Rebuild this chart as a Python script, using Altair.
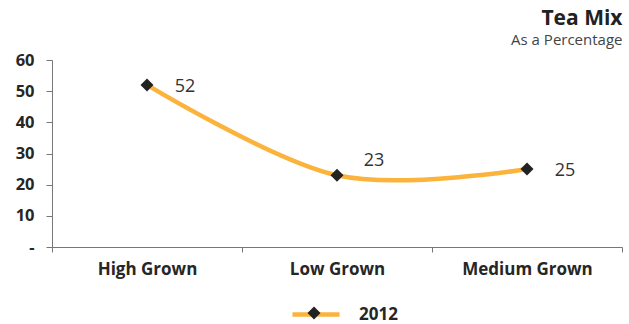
import altair as alt
import pandas as pd

categories = ["High Grown", "Low Grown", "Medium Grown"]
values = [52, 23, 25]
series = ["2012", "2012", "2012"]

df = pd.DataFrame({"cat": categories, "val": values, "series": series, "series2": series})

FONT = "Open Sans"
ORANGE = "#FBB33B"

x = alt.X("cat:N", sort=categories, title=None,
          scale=alt.Scale(paddingInner=0, paddingOuter=0),
          axis=alt.Axis(labelAngle=0, labelFontWeight="bold", labelFontSize=17,
                        labelColor="#262626", labelFont=FONT, labelPadding=9,
                        tickBand="extent", tickSize=5, tickColor="#777",
                        domainColor="#777", grid=False))
y = alt.Y("val:Q", title=None,
          scale=alt.Scale(domain=[0, 60], nice=False),
          axis=alt.Axis(values=[0, 10, 20, 30, 40, 50, 60],
                        labelExpr="datum.value == 0 ? '-' : datum.label",
                        labelFontWeight="bold", labelFontSize=16.5, labelColor="#262626",
                        labelFont=FONT, labelPadding=12, tickSize=6, tickColor="#777",
                        domainColor="#777", grid=False))

base = alt.Chart(df)

line = base.mark_line(interpolate="cardinal", tension=0, strokeWidth=4.5,
                      color=ORANGE).encode(
    x=x, y=y,
    color=alt.Color("series:N", scale=alt.Scale(range=[ORANGE]),
                    legend=alt.Legend(title=None, orient="none", legendX=238, legendY=228.5,
                                      symbolType="stroke", symbolSize=2209,
                                      symbolStrokeWidth=4.5, symbolStrokeColor=ORANGE,
                                      labelFontSize=17,
                                      labelFontWeight="bold", labelFont=FONT,
                                      labelColor="#262626", labelOffset=17, padding=0)))

points = base.mark_point(filled=True, size=170, opacity=1).encode(
    x=x, y=y,
    shape=alt.Shape("series2:N", scale=alt.Scale(range=["diamond"]),
                    legend=alt.Legend(title=None, orient="none", legendX=254.5, legendY=245.5,
                                      symbolSize=170, symbolFillColor="#222",
                                      symbolStrokeColor="#222", symbolOpacity=1,
                                      labelOpacity=0, padding=0, labelFontSize=10)),
    color=alt.value("#222"))

lab_main = base.transform_filter(alt.datum.cat != "Low Grown").mark_text(
    dx=38, dy=2, fontSize=18, font=FONT, color="#333").encode(
    x=x, y=y, text="val:Q")
lab_low = base.transform_filter(alt.datum.cat == "Low Grown").mark_text(
    dx=37, dy=-14, fontSize=18, font=FONT, color="#333").encode(
    x=x, y=y, text="val:Q")

chart = alt.layer(line, points, lab_main, lab_low).resolve_legend(
    color="independent", shape="independent"
).properties(
    width=570, height=187,
    title=alt.TitleParams("Tea Mix", subtitle="As a Percentage", anchor="end",
                          fontSize=21, fontWeight="bold", font=FONT, color="#222",
                          subtitleFont=FONT, subtitleFontSize=15, subtitleColor="#444",
                          subtitlePadding=4, offset=4),
    padding={"left": 52, "top": 60, "right": 7, "bottom": 77},
    autosize=alt.AutoSizeParams(type="none"),
    background="white"
).configure_view(stroke=None)

chart.save("out.html", embed_options={"renderer": "svg", "actions": False})
